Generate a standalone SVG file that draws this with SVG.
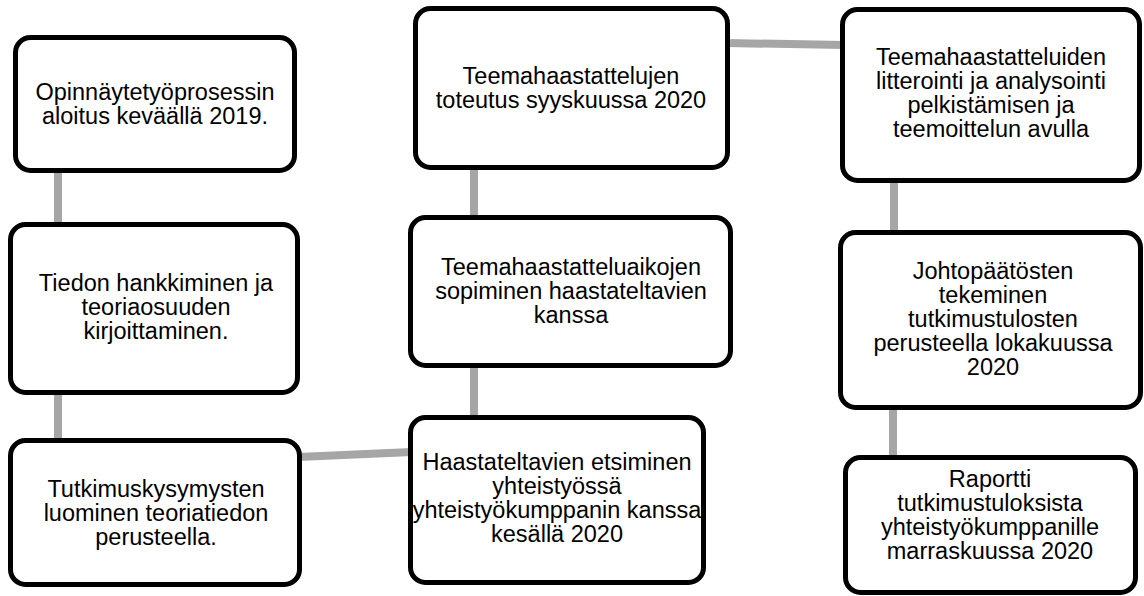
<svg xmlns="http://www.w3.org/2000/svg" width="1144" height="596" viewBox="0 0 1144 596">
<style>
.box{fill:#fff;stroke:#000;stroke-width:5}
.con{stroke:#a6a6a6;stroke-width:8;fill:none}
text{font-family:"Liberation Sans",Arial,sans-serif;font-size:23.5px;fill:#000;text-anchor:middle}
</style>
<rect width="1144" height="596" fill="#fff"/>
<g id="connectors">
<line class="con" x1="58" y1="170" x2="58" y2="226"/>
<line class="con" x1="58" y1="392" x2="58" y2="442"/>
<line class="con" x1="298" y1="457" x2="412" y2="452"/>
<line class="con" x1="474" y1="365" x2="474" y2="419"/>
<line class="con" x1="474" y1="166" x2="474" y2="219"/>
<line class="con" x1="726" y1="43" x2="844" y2="45"/>
<line class="con" x1="894" y1="180" x2="894" y2="234"/>
<line class="con" x1="893" y1="407" x2="893" y2="459"/>
</g>
<g id="n1"><rect class="box" x="15.5" y="37.5" width="279" height="133" rx="15"/>
<text x="155" y="100">Opinnäytetyöprosessin</text><text x="155" y="124">aloitus keväällä 2019.</text></g>
<g id="n2"><rect class="box" x="10.5" y="224.5" width="287" height="168" rx="15"/>
<text x="156" y="291">Tiedon hankkiminen ja</text><text x="156" y="315">teoriaosuuden</text><text x="156" y="339">kirjoittaminen.</text></g>
<g id="n3"><rect class="box" x="10.5" y="440.5" width="289" height="144" rx="15"/>
<text x="156" y="497">Tutkimuskysymysten</text><text x="156" y="521">luominen teoriatiedon</text><text x="156" y="545">perusteella.</text></g>
<g id="n4"><rect class="box" x="410.5" y="417.5" width="293" height="165" rx="15"/>
<text x="557" y="470">Haastateltavien etsiminen</text><text x="557" y="494">yhteistyössä</text><text x="557" y="518">yhteistyökumppanin kanssa</text><text x="557" y="542">kesällä 2020</text></g>
<g id="n5"><rect class="box" x="410.5" y="217.5" width="320" height="148" rx="15"/>
<text x="571" y="275">Teemahaastatteluaikojen</text><text x="571" y="299">sopiminen haastateltavien</text><text x="571" y="323">kanssa</text></g>
<g id="n6"><rect class="box" x="415.5" y="8.5" width="312" height="159" rx="15"/>
<text x="571" y="84">Teemahaastattelujen</text><text x="571" y="108">toteutus syyskuussa 2020</text></g>
<g id="n7"><rect class="box" x="842.5" y="9.5" width="297" height="171" rx="15"/>
<text x="991" y="65">Teemahaastatteluiden</text><text x="991" y="89">litterointi ja analysointi</text><text x="991" y="113">pelkistämisen ja</text><text x="991" y="137">teemoittelun avulla</text></g>
<g id="n8"><rect class="box" x="840.5" y="232.5" width="300" height="175" rx="15"/>
<text x="993" y="279">Johtopäätösten</text><text x="993" y="303">tekeminen</text><text x="993" y="327">tutkimustulosten</text><text x="993" y="351">perusteella lokakuussa</text><text x="993" y="375">2020</text></g>
<g id="n9"><rect class="box" x="845.5" y="457.5" width="290" height="135" rx="15"/>
<text x="990" y="487">Raportti</text><text x="990" y="511">tutkimustuloksista</text><text x="990" y="535">yhteistyökumppanille</text><text x="990" y="559">marraskuussa 2020</text></g>
</svg>
